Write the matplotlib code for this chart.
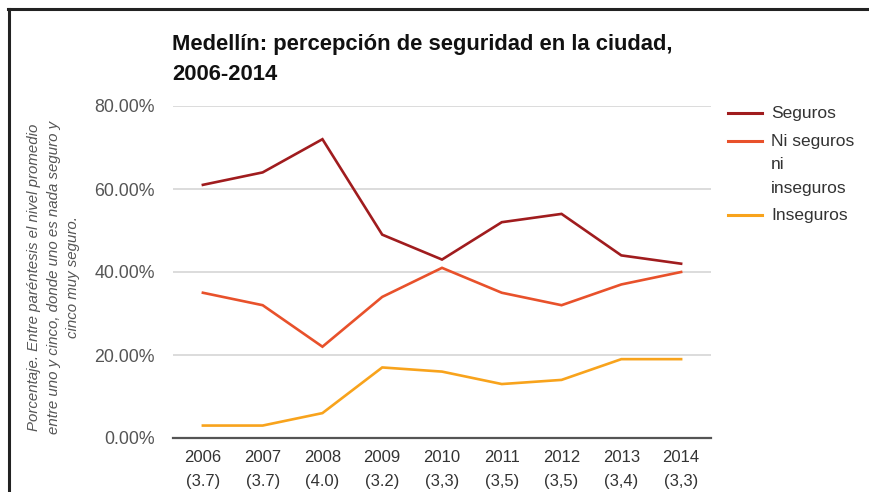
import numpy as np
import matplotlib.pyplot as plt
from matplotlib.lines import Line2D

plt.rcParams['font.family'] = ['Liberation Sans', 'DejaVu Sans']

years = ['2006', '2007', '2008', '2009', '2010', '2011', '2012', '2013', '2014']
promedio = ['(3.7)', '(3.7)', '(4.0)', '(3.2)', '(3,3)', '(3,5)', '(3,5)', '(3,4)', '(3,3)']
seguros = [61, 64, 72, 49, 43, 52, 54, 44, 42]
ni_seguros = [35, 32, 22, 34, 41, 35, 32, 37, 40]
inseguros = [3, 3, 6, 17, 16, 13, 14, 19, 19]

series = [('Seguros', seguros, '#a01c1e'),
          ('Ni seguros\nni\ninseguros', ni_seguros, '#e8512b'),
          ('Inseguros', inseguros, '#f8a31c')]

fig = plt.figure(figsize=(8.7, 4.92), dpi=100)
ax = fig.add_axes([173/870, 1 - 438/492, 538/870, 332/492])

x = np.arange(len(years))
for name, vals, col in series:
    ax.plot(x, vals, color=col, lw=1.9, solid_joinstyle='miter')

ax.set_xlim(-0.5, len(years) - 0.5)
ax.set_ylim(0, 80)
ax.set_yticks([0, 20, 40, 60, 80])
ax.set_yticklabels(['%.2f%%' % v for v in [0, 20, 40, 60, 80]], fontsize=12.8, color='#555555')
ax.set_xticks(x)
ax.set_xticklabels([y + '\n' + p for y, p in zip(years, promedio)], fontsize=12,
                   color='#333333', linespacing=1.72)
ax.tick_params(length=0)
ax.tick_params(axis='y', pad=13)
ax.tick_params(axis='x', pad=9)
ax.grid(axis='y', color='#d9d9d9', lw=1.3)
ax.set_axisbelow(True)
for s in ['top', 'right', 'left']:
    ax.spines[s].set_visible(False)
ax.spines['bottom'].set_color('#555555')
ax.spines['bottom'].set_linewidth(1.6)

ax.set_ylabel('Porcentaje. Entre paréntesis el nivel promedio\n'
              'entre uno y cinco, donde uno es nada seguro y\n'
              'cinco muy seguro.', fontsize=10.8, style='italic', color='#555555',
              linespacing=1.5)
ax.yaxis.set_label_coords(-0.172, 0.485)

fig.text(172/870, 1 - 34/492, 'Medellín: percepción de seguridad en la ciudad,\n2006-2014',
         fontsize=15.8, fontweight='bold', va='top', ha='left', linespacing=1.55, color='#111111')

# legend drawn by hand so the line sits next to the first text row
ly = [113, 141, 215]
for (name, vals, col), yy in zip(series, ly):
    fy = 1 - yy/492
    fig.add_artist(Line2D([728/870, 762/870], [fy, fy], color=col, lw=2.2))
    fig.text(771/870, fy + 7/492, name, fontsize=12.5, color='#333333', va='top',
             ha='left', linespacing=1.7, transform=fig.transFigure)

# screenshot frame
fig.add_artist(Line2D([8/870, 1], [1 - 9/492, 1 - 9/492], color='#222222', lw=2.2))
fig.add_artist(Line2D([9/870, 9/870], [0, 1 - 9/492], color='#222222', lw=2.2))

fig.savefig('out.png', dpi=100)
